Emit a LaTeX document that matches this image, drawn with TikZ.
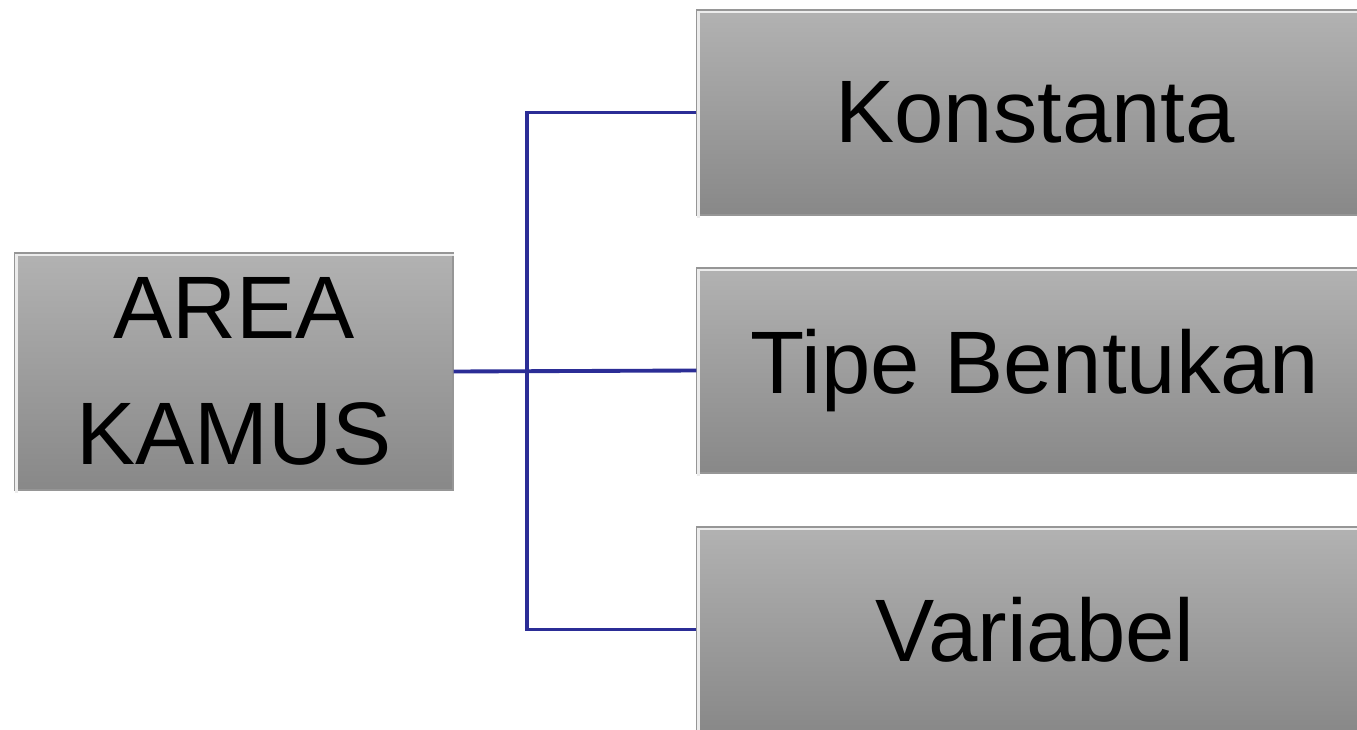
\documentclass[tikz,border=0pt]{standalone}
\usepackage{fontspec}
\setmainfont{Liberation Sans}
\definecolor{linkblue}{RGB}{43,45,150}
\definecolor{boxtop}{RGB}{178,178,178}
\definecolor{boxbottom}{RGB}{136,136,136}
\definecolor{boxedge}{RGB}{150,150,150}
\tikzset{
    kamusbox/.style={rectangle, draw=boxedge, line width=0.6pt, top color=boxtop, bottom color=boxbottom, inner sep=0pt, align=center, font=\fontsize{50.5}{72}\selectfont},
    link/.style={linkblue, line width=2.2pt}
}
\begin{document}
\begin{tikzpicture}[x=0.02cm, y=-0.02cm]
        % Page frame, the right boxes run off its edges
        \clip (0,0) rectangle (1357,730);
        \fill[white] (0,0) rectangle (1357,730);

        % Define the boxes with the text
        \node[kamusbox, minimum width=438*0.02cm, minimum height=237*0.02cm] (area) at (234,371.5) {AREA\\KAMUS};
        \node[kamusbox, minimum width=676*0.02cm, minimum height=205*0.02cm] (konst) at (1035,112.5) {Konstanta};
        \node[kamusbox, minimum width=676*0.02cm, minimum height=205*0.02cm] (tipe) at (1035,370.5) {Tipe Bentukan};
        \node[kamusbox, minimum width=676*0.02cm, minimum height=205*0.02cm] (var) at (1035,629.5) {Variabel};

        % Light bevel on the top and left edges
        \foreach \b in {area, konst, tipe, var}{
            \draw[white!85!gray, line width=1.5pt] ([xshift=1pt, yshift=-1.5pt]\b.south west) -- ([xshift=1pt, yshift=-1.5pt]\b.north west) -- ([yshift=-1.5pt]\b.north east);
        }

        % Connectors
        \coordinate (split) at (527,371);
        \draw[link] (area.east) -- (tipe.west);
        \draw[link] (konst.west) -| (split) |- (var.west);
    \end{tikzpicture}
\end{document}
